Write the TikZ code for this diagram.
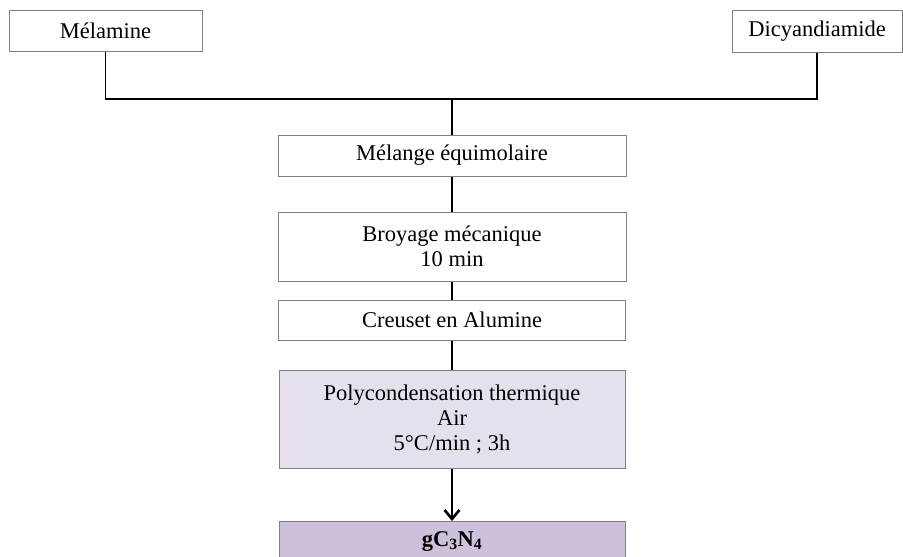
\documentclass[tikz,border=0pt]{standalone}
\usepackage{fontspec}
\setmainfont{Liberation Serif}
\usetikzlibrary{arrows.meta}
\definecolor{boxline}{HTML}{808080}
\definecolor{lav}{HTML}{E6E0EC}
\definecolor{lavdark}{HTML}{CCC0DA}
\tikzset{
  stepbox/.style={draw=boxline, line width=1pt, inner sep=0pt, align=center, font=\fontsize{22.5}{25}\selectfont},
  conn/.style={draw=black, line width=1.8pt},
}
\begin{document}
\begin{tikzpicture}[x=1pt,y=-1pt]
\useasboundingbox (0,0) rectangle (903,557);
\node[stepbox, minimum width=193pt, minimum height=41pt] (mel) at (105.5,30.5) {Mélamine};
\node[stepbox, minimum width=170pt, minimum height=42pt] (dcd) at (817,31) {Dicyandiamide};
\node[stepbox, minimum width=348pt, minimum height=41pt] (mix) at (452,155.5) {Mélange équimolaire};
\node[stepbox, minimum width=348pt, minimum height=69pt] (broy) at (452,246.5) {Broyage mécanique\\10 min};
\node[stepbox, minimum width=347pt, minimum height=40pt] (cre) at (452,320) {Creuset en Alumine};
\node[stepbox, fill=lav, minimum width=346pt, minimum height=98pt] (poly) at (452,419) {Polycondensation thermique\\Air\\5°C/min ; 3h};
\node[stepbox, fill=lavdark, minimum width=346pt, minimum height=40pt, anchor=north] (g) at (452,521) {\textbf{gC\textsubscript{3}N\textsubscript{4}}};
\coordinate (jl) at (mel.south |- 0,99);
\coordinate (jr) at (dcd.south |- 0,99);
\coordinate (jm) at (mix.north |- 0,99);
\draw[conn] (mel.south) -- (jl) -- (jr) -- (dcd.south);
\draw[conn] (jm) -- (mix.north);
\draw[conn] (mix.south) -- (broy.north);
\draw[conn] (broy.south) -- (cre.north);
\draw[conn] (cre.south) -- (poly.north);
\draw[conn, line width=2.6pt, -{Straight Barb[length=9pt,width=15pt,line width=2.6pt]}] (poly.south) -- (g.north);
\end{tikzpicture}
\end{document}
